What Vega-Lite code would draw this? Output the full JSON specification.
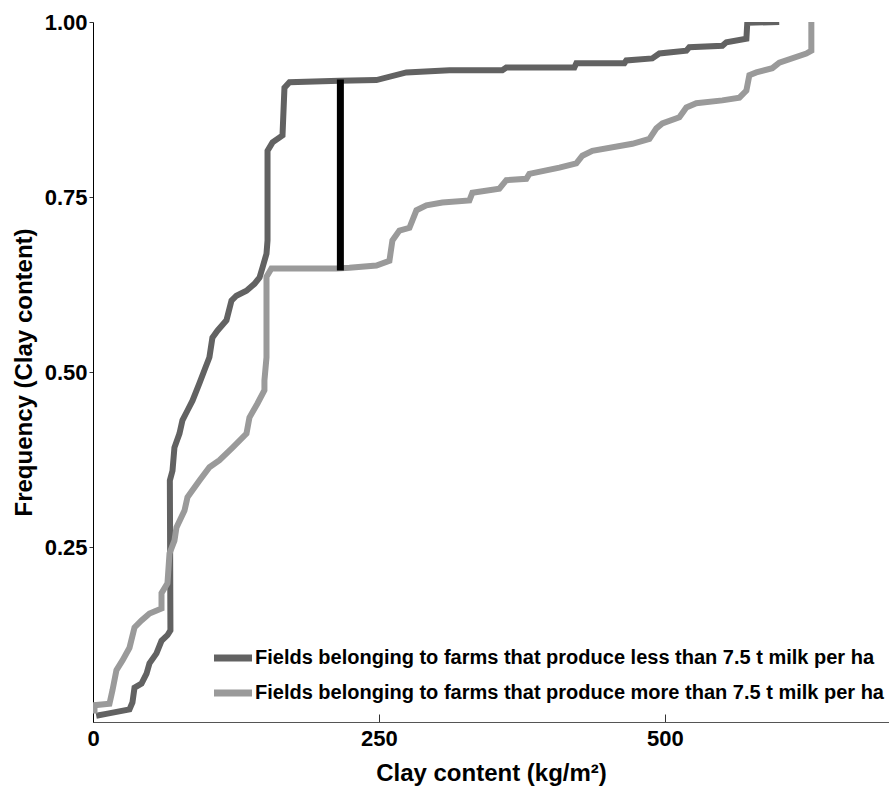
{
  "$schema": "https://vega.github.io/schema/vega-lite/v6.json",
  "width": 796,
  "height": 700,
  "autosize": "none",
  "padding": {"left": 93, "top": 22, "right": 0, "bottom": 66},
  "background": "white",
  "config": {
    "view": {"stroke": null},
    "font": "Liberation Sans"
  },
  "datasets": {
    "curves": [
      {"g": "less", "i": 1, "clay": 2.8, "freq": 0.009},
      {"g": "less", "i": 2, "clay": 12.7, "freq": 0.012},
      {"g": "less", "i": 3, "clay": 31.9, "freq": 0.018},
      {"g": "less", "i": 4, "clay": 34.5, "freq": 0.028},
      {"g": "less", "i": 5, "clay": 36.3, "freq": 0.049},
      {"g": "less", "i": 6, "clay": 42.4, "freq": 0.055},
      {"g": "less", "i": 7, "clay": 46.8, "freq": 0.069},
      {"g": "less", "i": 8, "clay": 49.4, "freq": 0.084},
      {"g": "less", "i": 9, "clay": 55.5, "freq": 0.098},
      {"g": "less", "i": 10, "clay": 59.9, "freq": 0.116},
      {"g": "less", "i": 11, "clay": 65.1, "freq": 0.124},
      {"g": "less", "i": 12, "clay": 67.7, "freq": 0.131},
      {"g": "less", "i": 13, "clay": 67.2, "freq": 0.345},
      {"g": "less", "i": 14, "clay": 69.5, "freq": 0.359},
      {"g": "less", "i": 15, "clay": 71.2, "freq": 0.392},
      {"g": "less", "i": 16, "clay": 75.6, "freq": 0.412},
      {"g": "less", "i": 17, "clay": 78.2, "freq": 0.431},
      {"g": "less", "i": 18, "clay": 82.6, "freq": 0.445},
      {"g": "less", "i": 19, "clay": 87.0, "freq": 0.459},
      {"g": "less", "i": 20, "clay": 93.1, "freq": 0.484},
      {"g": "less", "i": 21, "clay": 98.0, "freq": 0.505},
      {"g": "less", "i": 22, "clay": 101.8, "freq": 0.521},
      {"g": "less", "i": 23, "clay": 104.4, "freq": 0.549},
      {"g": "less", "i": 24, "clay": 108.8, "freq": 0.559},
      {"g": "less", "i": 25, "clay": 116.7, "freq": 0.574},
      {"g": "less", "i": 26, "clay": 121.1, "freq": 0.602},
      {"g": "less", "i": 27, "clay": 125.4, "freq": 0.609},
      {"g": "less", "i": 28, "clay": 134.2, "freq": 0.616},
      {"g": "less", "i": 29, "clay": 141.2, "freq": 0.626},
      {"g": "less", "i": 30, "clay": 145.6, "freq": 0.635},
      {"g": "less", "i": 31, "clay": 148.2, "freq": 0.649},
      {"g": "less", "i": 32, "clay": 151.7, "freq": 0.669},
      {"g": "less", "i": 33, "clay": 152.6, "freq": 0.688},
      {"g": "less", "i": 34, "clay": 152.6, "freq": 0.816},
      {"g": "less", "i": 35, "clay": 157.0, "freq": 0.828},
      {"g": "less", "i": 36, "clay": 165.7, "freq": 0.838},
      {"g": "less", "i": 37, "clay": 167.4, "freq": 0.906},
      {"g": "less", "i": 38, "clay": 171.8, "freq": 0.914},
      {"g": "less", "i": 39, "clay": 215.5, "freq": 0.916},
      {"g": "less", "i": 40, "clay": 247.8, "freq": 0.917},
      {"g": "less", "i": 41, "clay": 274.0, "freq": 0.928},
      {"g": "less", "i": 42, "clay": 311.6, "freq": 0.931},
      {"g": "less", "i": 43, "clay": 357.9, "freq": 0.931},
      {"g": "less", "i": 44, "clay": 361.4, "freq": 0.935},
      {"g": "less", "i": 45, "clay": 420.9, "freq": 0.935},
      {"g": "less", "i": 46, "clay": 422.6, "freq": 0.941},
      {"g": "less", "i": 47, "clay": 464.6, "freq": 0.941},
      {"g": "less", "i": 48, "clay": 466.3, "freq": 0.945},
      {"g": "less", "i": 49, "clay": 489.0, "freq": 0.948},
      {"g": "less", "i": 50, "clay": 495.2, "freq": 0.955},
      {"g": "less", "i": 51, "clay": 518.8, "freq": 0.959},
      {"g": "less", "i": 52, "clay": 521.4, "freq": 0.964},
      {"g": "less", "i": 53, "clay": 550.3, "freq": 0.966},
      {"g": "less", "i": 54, "clay": 553.8, "freq": 0.971},
      {"g": "less", "i": 55, "clay": 571.3, "freq": 0.976},
      {"g": "less", "i": 56, "clay": 572.1, "freq": 0.999},
      {"g": "less", "i": 57, "clay": 600.0, "freq": 1.0},
      {"g": "more", "i": 1, "clay": 1.3, "freq": 0.012},
      {"g": "more", "i": 2, "clay": 1.3, "freq": 0.024},
      {"g": "more", "i": 3, "clay": 14.4, "freq": 0.026},
      {"g": "more", "i": 4, "clay": 17.0, "freq": 0.045},
      {"g": "more", "i": 5, "clay": 20.5, "freq": 0.074},
      {"g": "more", "i": 6, "clay": 25.8, "freq": 0.088},
      {"g": "more", "i": 7, "clay": 31.9, "freq": 0.106},
      {"g": "more", "i": 8, "clay": 36.3, "freq": 0.135},
      {"g": "more", "i": 9, "clay": 42.4, "freq": 0.145},
      {"g": "more", "i": 10, "clay": 49.4, "freq": 0.155},
      {"g": "more", "i": 11, "clay": 59.9, "freq": 0.162},
      {"g": "more", "i": 12, "clay": 59.9, "freq": 0.184},
      {"g": "more", "i": 13, "clay": 65.1, "freq": 0.198},
      {"g": "more", "i": 14, "clay": 66.9, "freq": 0.241},
      {"g": "more", "i": 15, "clay": 71.2, "freq": 0.259},
      {"g": "more", "i": 16, "clay": 73.0, "freq": 0.278},
      {"g": "more", "i": 17, "clay": 80.0, "freq": 0.302},
      {"g": "more", "i": 18, "clay": 82.6, "freq": 0.321},
      {"g": "more", "i": 19, "clay": 93.1, "freq": 0.345},
      {"g": "more", "i": 20, "clay": 101.8, "freq": 0.364},
      {"g": "more", "i": 21, "clay": 110.6, "freq": 0.374},
      {"g": "more", "i": 22, "clay": 122.0, "freq": 0.392},
      {"g": "more", "i": 23, "clay": 134.2, "freq": 0.412},
      {"g": "more", "i": 24, "clay": 136.8, "freq": 0.435},
      {"g": "more", "i": 25, "clay": 143.8, "freq": 0.455},
      {"g": "more", "i": 26, "clay": 149.9, "freq": 0.474},
      {"g": "more", "i": 27, "clay": 149.9, "freq": 0.488},
      {"g": "more", "i": 28, "clay": 151.7, "freq": 0.521},
      {"g": "more", "i": 29, "clay": 151.7, "freq": 0.636},
      {"g": "more", "i": 30, "clay": 156.0, "freq": 0.648},
      {"g": "more", "i": 31, "clay": 212.8, "freq": 0.648},
      {"g": "more", "i": 32, "clay": 224.2, "freq": 0.649},
      {"g": "more", "i": 33, "clay": 247.8, "freq": 0.652},
      {"g": "more", "i": 34, "clay": 259.2, "freq": 0.659},
      {"g": "more", "i": 35, "clay": 261.8, "freq": 0.688},
      {"g": "more", "i": 36, "clay": 267.9, "freq": 0.702},
      {"g": "more", "i": 37, "clay": 276.7, "freq": 0.706},
      {"g": "more", "i": 38, "clay": 282.8, "freq": 0.731},
      {"g": "more", "i": 39, "clay": 291.5, "freq": 0.738},
      {"g": "more", "i": 40, "clay": 305.5, "freq": 0.742},
      {"g": "more", "i": 41, "clay": 329.1, "freq": 0.745},
      {"g": "more", "i": 42, "clay": 331.7, "freq": 0.756},
      {"g": "more", "i": 43, "clay": 355.3, "freq": 0.762},
      {"g": "more", "i": 44, "clay": 361.4, "freq": 0.774},
      {"g": "more", "i": 45, "clay": 378.9, "freq": 0.776},
      {"g": "more", "i": 46, "clay": 381.5, "freq": 0.783},
      {"g": "more", "i": 47, "clay": 407.8, "freq": 0.792},
      {"g": "more", "i": 48, "clay": 422.6, "freq": 0.798},
      {"g": "more", "i": 49, "clay": 427.9, "freq": 0.809},
      {"g": "more", "i": 50, "clay": 436.6, "freq": 0.816},
      {"g": "more", "i": 51, "clay": 471.6, "freq": 0.826},
      {"g": "more", "i": 52, "clay": 486.5, "freq": 0.833},
      {"g": "more", "i": 53, "clay": 492.6, "freq": 0.848},
      {"g": "more", "i": 54, "clay": 497.8, "freq": 0.855},
      {"g": "more", "i": 55, "clay": 512.7, "freq": 0.864},
      {"g": "more", "i": 56, "clay": 518.8, "freq": 0.878},
      {"g": "more", "i": 57, "clay": 527.5, "freq": 0.884},
      {"g": "more", "i": 58, "clay": 550.3, "freq": 0.888},
      {"g": "more", "i": 59, "clay": 565.2, "freq": 0.892},
      {"g": "more", "i": 60, "clay": 571.3, "freq": 0.902},
      {"g": "more", "i": 61, "clay": 573.9, "freq": 0.924},
      {"g": "more", "i": 62, "clay": 580.0, "freq": 0.928},
      {"g": "more", "i": 63, "clay": 594.0, "freq": 0.934},
      {"g": "more", "i": 64, "clay": 600.1, "freq": 0.942},
      {"g": "more", "i": 65, "clay": 623.7, "freq": 0.955},
      {"g": "more", "i": 66, "clay": 628.1, "freq": 0.959},
      {"g": "more", "i": 67, "clay": 628.1, "freq": 1.0}
    ],
    "ks": [
      {"clay": 216.3, "lo": 0.645, "hi": 0.918}
    ]
  },
  "layer": [
    {
      "data": {"name": "curves"},
      "mark": {"type": "line", "strokeWidth": 6, "strokeJoin": "miter", "strokeCap": "butt", "clip": true},
      "encoding": {
        "x": {
          "field": "clay", "type": "quantitative",
          "scale": {"domain": [0, 696], "nice": false, "zero": false},
          "axis": {
            "title": "Clay content (kg/m²)",
            "values": [0, 250, 500],
            "grid": false,
            "domainColor": "#555555",
            "domainWidth": 1.2,
            "tickColor": "#333333",
            "tickSize": -8,
            "labelPadding": 14,
            "labelFontSize": 22,
            "labelFontWeight": "bold",
            "labelColor": "black",
            "labelFlush": false,
            "titleFontSize": 24,
            "titleFontWeight": "bold",
            "titleColor": "black",
            "titlePadding": 12
          }
        },
        "y": {
          "field": "freq", "type": "quantitative",
          "scale": {"domain": [0, 1], "nice": false},
          "axis": {
            "title": "Frequency (Clay content)",
            "values": [0.25, 0.5, 0.75, 1.0],
            "format": ".2f",
            "grid": false,
            "domainColor": "black",
            "domainWidth": 1,
            "tickColor": "#333333",
            "tickSize": 4,
            "labelPadding": 2,
            "labelFontSize": 22,
            "labelFontWeight": "bold",
            "labelColor": "black",
            "labelFlush": false,
            "titleFontSize": 24,
            "titleFontWeight": "bold",
            "titleColor": "black",
            "titlePadding": 8
          }
        },
        "color": {
          "field": "g", "type": "nominal",
          "scale": {"domain": ["less", "more"], "range": ["#626262", "#9a9a9a"]},
          "legend": {
            "title": null,
            "orient": "none",
            "legendX": 127,
            "legendY": 623,
            "padding": 0,
            "symbolType": "M-2,0H2",
            "symbolSize": 361,
            "symbolStrokeWidth": 7,
            "symbolFillColor": "transparent",
            "labelFontSize": 20,
            "labelFontWeight": "bold",
            "labelColor": "black",
            "labelOffset": 9,
            "labelLimit": 0,
            "rowPadding": 7,
            "labelExpr": "datum.label == 'less' ? 'Fields belonging to farms that produce less than 7.5 t milk per ha' : 'Fields belonging to farms that produce more than 7.5 t milk per ha'"
          }
        },
        "order": {"field": "i", "type": "quantitative"}
      }
    },
    {
      "data": {"name": "ks"},
      "mark": {"type": "rule", "color": "black", "strokeWidth": 7},
      "encoding": {
        "x": {"field": "clay", "type": "quantitative"},
        "y": {"field": "lo", "type": "quantitative"},
        "y2": {"field": "hi"}
      }
    }
  ]
}
